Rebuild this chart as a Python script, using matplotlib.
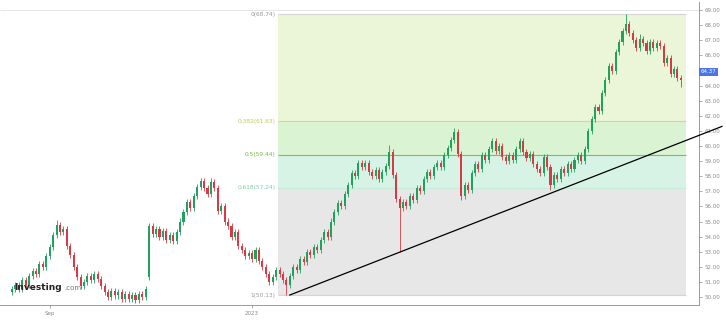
import numpy as np
import matplotlib.pyplot as plt

# closing prices, one per daily candle
closes = [50.5, 50.8, 50.5, 51.1, 50.8, 51.4, 51.7, 51.5, 52.2, 52.0,
          52.7, 53.3, 54.1, 54.8, 54.3, 54.5, 53.4, 52.8, 52.0, 51.3,
          50.7, 51.0, 51.4, 51.1, 51.5, 51.2, 50.7, 50.3, 50.0, 50.4,
          50.1, 50.3, 49.9, 50.2, 49.9, 50.1, 49.8, 50.2, 50.0, 50.5,
          54.7, 54.2, 54.5, 54.0, 54.4, 53.8, 54.1, 53.7, 54.3, 55.0,
          55.6, 56.3, 55.9, 56.7, 57.3, 57.7, 57.2, 56.8, 57.6, 57.2,
          55.7, 56.0, 55.0, 54.7, 54.0, 54.3, 53.4, 53.1, 52.7, 52.9,
          52.5, 53.1, 52.4, 52.0, 51.5, 51.0, 51.3, 51.8, 51.5, 51.1,
          50.8, 51.4, 52.0, 51.8, 52.5, 52.3, 53.0, 52.8, 53.3, 53.1,
          53.8, 54.3, 54.0, 55.0, 55.6, 56.2, 56.0, 56.8, 57.4, 58.2,
          58.0, 58.9, 58.6, 58.9, 58.3, 58.0, 58.4, 57.8, 58.3, 58.7,
          59.6, 58.1, 56.5, 55.9, 56.3, 56.0, 56.7, 56.4, 57.2, 57.0,
          57.8, 58.3, 58.0, 58.6, 58.9, 58.6, 59.4, 59.9, 60.4, 60.9,
          59.5, 56.7, 57.4, 57.1, 58.2, 58.8, 58.5, 59.4, 59.1, 59.8,
          60.3, 59.7, 60.0, 59.3, 59.0, 59.4, 59.1, 59.8, 60.3, 59.6,
          59.2, 59.5, 58.8, 58.5, 58.2, 59.3, 58.6, 57.4, 58.1, 57.8,
          58.5, 58.2, 58.8, 58.5, 59.1, 59.4, 59.0, 59.8, 61.0, 61.8,
          62.6, 62.3, 63.5, 64.4, 65.3, 65.0, 66.2, 66.9, 67.6, 68.1,
          67.5, 67.0, 66.5, 67.1, 66.8, 66.3, 66.9, 66.5, 66.8, 66.6,
          65.5, 65.8, 64.8, 65.1, 64.5, 64.37]

# opens follow the previous close, except where the price gapped
gap_opens = {0: 50.3, 40: 51.3}
# wicks that stick out further than usual
long_highs = {13: 55.1, 55: 57.9, 58: 57.9, 110: 60.1, 129: 61.2, 179: 68.74, 183: 67.4}
long_lows = {36: 49.6, 80: 50.13, 113: 53.0, 131: 56.4, 157: 57.1, 195: 63.9}

fib_low = 50.13
fib_high = 68.74
fib_levels = [0.382, 0.5, 0.618]
last_price = 64.37

trend_x = [81, 207]
trend_y = [50.13, 61.3]

x_tick_pos = [11, 70]
x_tick_labels = ['Sep', '2023']

n = len(closes)
idx = np.arange(n)
opens = [gap_opens.get(i, closes[i - 1] if i > 0 else closes[0]) for i in range(n)]
highs = [long_highs.get(i, max(opens[i], closes[i]) + 0.2) for i in range(n)]
lows = [long_lows.get(i, min(opens[i], closes[i]) - 0.2) for i in range(n)]

fig = plt.figure(figsize=(7.26, 3.25), dpi=100)
ax = fig.add_axes([0, 20 / 325, 699 / 726, 303 / 325])
ax.set_xlim(-3.5, 200.3)
ax.set_ylim(49.47, 69.54)

green = '#1fa35c'
red = '#d83a45'
up = np.array(closes) >= np.array(opens)
colors = [green if u else red for u in up]

# fibonacci zones
x0, x1 = 77.5, 196.5
lv = [fib_high - f * (fib_high - fib_low) for f in fib_levels]
ax.fill_between([x0, x1], lv[0], fib_high, color='#ebf5d8', zorder=0, lw=0)
ax.fill_between([x0, x1], lv[1], lv[0], color='#daf3d2', zorder=0, lw=0)
ax.fill_between([x0, x1], lv[2], lv[1], color='#d7f3e6', zorder=0, lw=0)
ax.fill_between([x0, x1], fib_low, lv[2], color='#e7e7e7', zorder=0, lw=0)
ax.hlines(fib_high, x0, x1, color='#d4d4d4', lw=0.8, zorder=1)
ax.hlines(lv[0], x0, x1, color='#c9df86', lw=0.8, zorder=1)
ax.hlines(lv[1], x0, x1, color='#7dc242', lw=0.8, zorder=1)
ax.hlines(lv[2], x0, x1, color='#c6ecdc', lw=0.8, zorder=1)
ax.hlines(fib_low, x0, x1, color='#d4d4d4', lw=0.8, zorder=1)
ax.hlines(69.0, -3.5, 200.3, color='#e2e2e2', lw=0.6, zorder=1)

lab_kw = dict(ha='right', va='center', fontsize=4.2, zorder=3)
ax.text(x0 - 0.6, fib_high, '0(%.2f)' % fib_high, color='#9a9a9a', **lab_kw)
ax.text(x0 - 0.6, lv[0], '0.382(%.2f)' % lv[0], color='#b9cc5e', **lab_kw)
ax.text(x0 - 0.6, lv[1], '0.5(%.2f)' % lv[1], color='#79b84a', **lab_kw)
ax.text(x0 - 0.6, lv[2], '0.618(%.2f)' % lv[2], color='#7ccfa8', **lab_kw)
ax.text(x0 - 0.6, fib_low, '1(%.2f)' % fib_low, color='#9a9a9a', **lab_kw)

# candles
ax.vlines(idx, lows, highs, colors=colors, lw=0.6, zorder=2)
bottoms = np.minimum(opens, closes)
heights = np.maximum(np.abs(np.array(closes) - np.array(opens)), 0.05)
ax.bar(idx, heights, bottom=bottoms, width=0.6, color=colors, lw=0, zorder=2)

# trend line
ax.plot(trend_x, trend_y, color='black', lw=0.9, zorder=4, clip_on=False)

# axes look
for s in ['top', 'left']:
    ax.spines[s].set_visible(False)
ax.spines['right'].set_color('#9a9a9a')
ax.spines['bottom'].set_color('#9a9a9a')
ax.spines['right'].set_linewidth(0.7)
ax.spines['bottom'].set_linewidth(0.7)
ax.yaxis.tick_right()
yt = np.arange(50, 70)
ax.set_yticks(yt)
# the 65 label sits under the last-price tag
ax.set_yticklabels(['' if v == 65 else '%.2f' % v for v in yt])
ax.tick_params(axis='y', labelsize=4, colors='#8a8a8a', length=2, width=0.5, pad=2)
ax.set_xticks(x_tick_pos)
ax.set_xticklabels(x_tick_labels)
ax.tick_params(axis='x', labelsize=4, colors='#8a8a8a', length=2, width=0.5, pad=2)

ax.text(1.002, last_price + 0.55, '%.2f' % last_price, transform=ax.get_yaxis_transform(),
        ha='left', va='center', fontsize=4, color='white', zorder=6, clip_on=False,
        bbox=dict(boxstyle='square,pad=0.25', fc='#4a74e8', ec='none'))

# logo
ax.text(0.5, 50.45, 'Investing', fontsize=6.5, fontweight='bold', color='#222222', zorder=5)
ax.text(15.2, 50.45, '.com', fontsize=5, color='#777777', zorder=5)

fig.savefig('out.png', dpi=100)
